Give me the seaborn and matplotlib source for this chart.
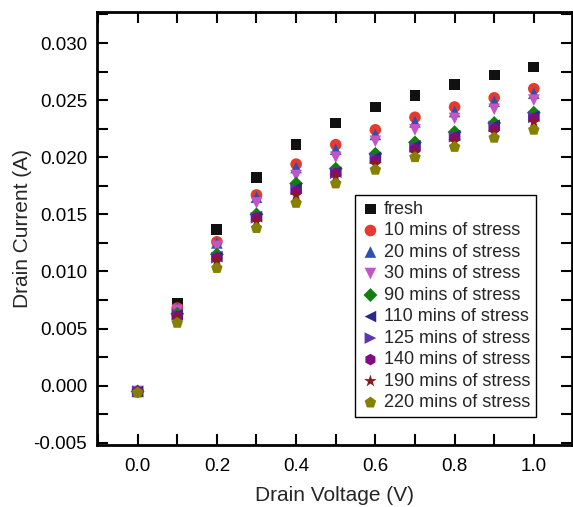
import matplotlib
matplotlib.use("Agg")
import matplotlib.pyplot as plt
import seaborn as sns
import pandas as pd
import numpy as np
from matplotlib.ticker import MultipleLocator

voltage = [0.0, 0.1, 0.2, 0.3, 0.4, 0.5, 0.6, 0.7, 0.8, 0.9, 1.0]

fresh   = [-0.0005, 0.0072, 0.0137, 0.0182, 0.0211, 0.0230, 0.0244, 0.0254, 0.0264, 0.0272, 0.0279]
m10     = [-0.0005, 0.0068, 0.0126, 0.0167, 0.0194, 0.0211, 0.0224, 0.0235, 0.0244, 0.0252, 0.0260]
m20     = [-0.0005, 0.0068, 0.0125, 0.0165, 0.0191, 0.0207, 0.0220, 0.0231, 0.0240, 0.0249, 0.0256]
m30     = [-0.0005, 0.0066, 0.0122, 0.0160, 0.0184, 0.0200, 0.0214, 0.0224, 0.0234, 0.0242, 0.0250]
m90     = [-0.0005, 0.0063, 0.0115, 0.0150, 0.0177, 0.0190, 0.0203, 0.0213, 0.0222, 0.0230, 0.0239]
m110    = [-0.0005, 0.0062, 0.0113, 0.0148, 0.0173, 0.0187, 0.0200, 0.0210, 0.0219, 0.0228, 0.0236]
m125    = [-0.0005, 0.0062, 0.0112, 0.0147, 0.0172, 0.0186, 0.0199, 0.0209, 0.0218, 0.0227, 0.0235]
m140    = [-0.0005, 0.0061, 0.0112, 0.0147, 0.0170, 0.0186, 0.0197, 0.0207, 0.0217, 0.0225, 0.0234]
m190    = [-0.0005, 0.0060, 0.0110, 0.0144, 0.0167, 0.0183, 0.0194, 0.0204, 0.0214, 0.0222, 0.0231]
m220    = [-0.0006, 0.0055, 0.0103, 0.0138, 0.0160, 0.0177, 0.0189, 0.0200, 0.0209, 0.0217, 0.0224]

labels = ["fresh", "10 mins of stress", "20 mins of stress", "30 mins of stress",
          "90 mins of stress", "110 mins of stress", "125 mins of stress",
          "140 mins of stress", "190 mins of stress", "220 mins of stress"]
series = [fresh, m10, m20, m30, m90, m110, m125, m140, m190, m220]
colors = ["#111111", "#e63a2e", "#3050b0", "#c455c4", "#118011",
          "#2b2a8c", "#5a35b5", "#820a82", "#8b1a1a", "#858000"]
markers = ["s", "o", "^", "v", "D", "<", ">", "h", "*", "p"]
sizes = [60, 70, 70, 70, 50, 70, 70, 70, 90, 75]

rows = []
for lab, vals in zip(labels, series):
    for v, i in zip(voltage, vals):
        rows.append({"V": v, "I": i, "series": lab})
df = pd.DataFrame(rows)

sns.set_style("ticks")
plt.rcParams["font.family"] = ["Liberation Sans", "DejaVu Sans"]

fig = plt.figure(figsize=(5.73, 5.07), dpi=100)
ax = fig.add_axes([0.169, 0.122, 0.829, 0.854])

for lab, col, mk, sz in zip(labels, colors, markers, sizes):
    sub = df[df["series"] == lab]
    sns.scatterplot(data=sub, x="V", y="I", color=col, marker=mk, s=sz,
                    edgecolor="none", linewidth=0, ax=ax, label=lab, zorder=3)

ax.set_xlim(-0.103, 1.096)
ax.set_ylim(-0.0052, 0.0327)
ax.xaxis.set_major_locator(MultipleLocator(0.2))
ax.xaxis.set_minor_locator(MultipleLocator(0.1))
ax.yaxis.set_major_locator(MultipleLocator(0.005))
ax.yaxis.set_minor_locator(MultipleLocator(0.0025))
ax.xaxis.set_major_formatter(matplotlib.ticker.FormatStrFormatter("%.1f"))
ax.yaxis.set_major_formatter(matplotlib.ticker.FormatStrFormatter("%.3f"))
ax.tick_params(which="both", direction="in", top=True, right=True, width=1.5,
               labelsize=13.5, colors="black")
ax.tick_params(axis="x", which="major", length=8, pad=9)
ax.tick_params(axis="y", which="major", length=8, pad=7)
ax.tick_params(which="minor", length=8)
for s in ax.spines.values():
    s.set_linewidth(2)
    s.set_color("black")
    s.set_visible(True)

ax.set_xlabel("Drain Voltage (V)", fontsize=15, labelpad=8)
ax.set_ylabel("Drain Current (A)", fontsize=15, labelpad=1)

leg = ax.legend(loc="upper right", bbox_to_anchor=(0.924, 0.577), fontsize=13,
                frameon=True, fancybox=False, framealpha=1, edgecolor="black",
                handletextpad=0.2, labelspacing=0.25, borderpad=0.3,
                handlelength=1.1, borderaxespad=0)
leg.get_frame().set_linewidth(1)

fig.savefig("out.png", dpi=100)
